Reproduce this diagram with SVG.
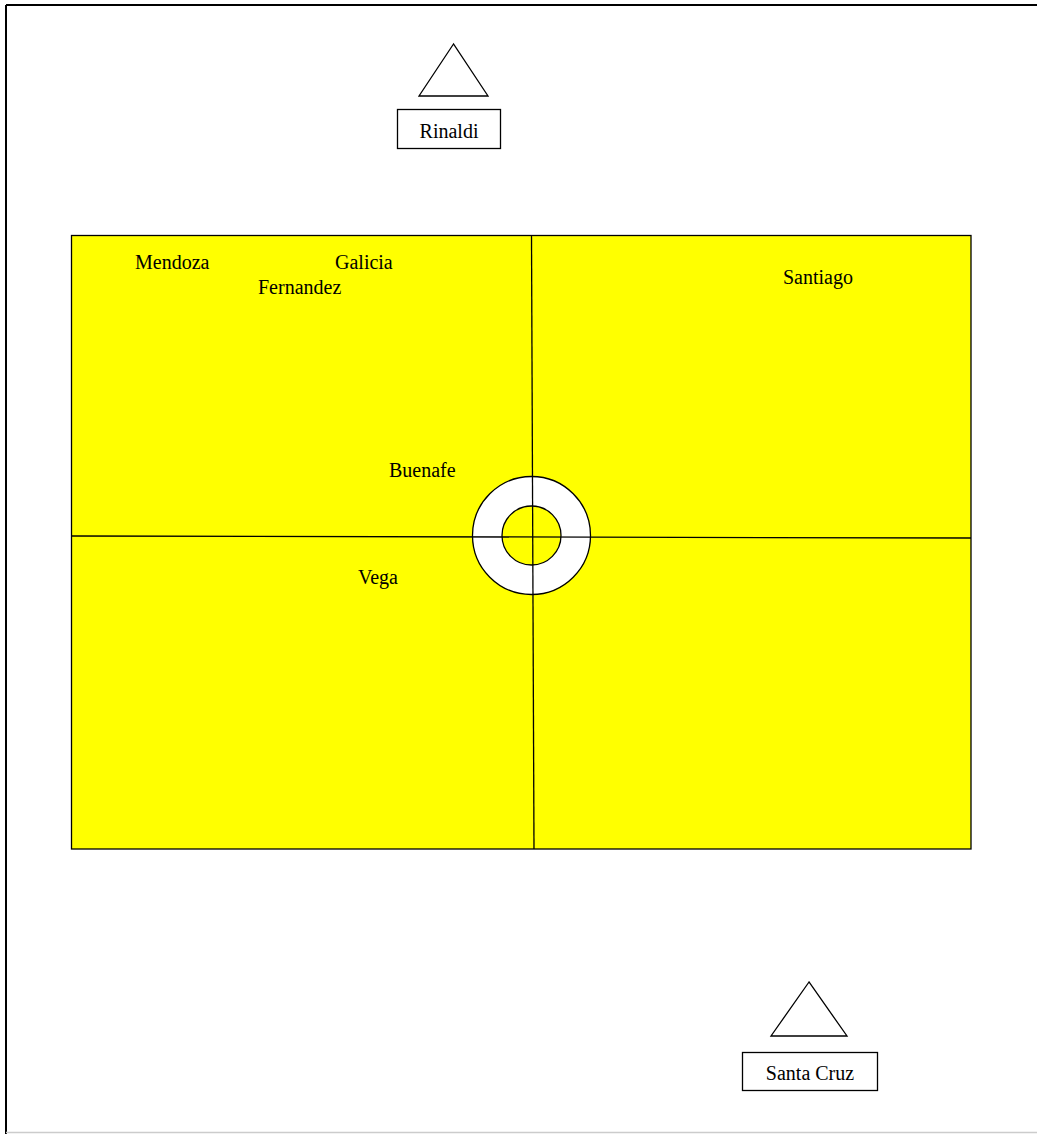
<svg xmlns="http://www.w3.org/2000/svg" width="1037" height="1134" viewBox="0 0 1037 1134">
<style>
.t{font-family:"Liberation Serif","Times New Roman",serif;font-size:20px;fill:#000}
.ln{stroke:#000;stroke-width:1.3;fill:none}
.box{fill:#fff;stroke:#000;stroke-width:1.3}
</style>
<rect x="0" y="0" width="1037" height="1134" fill="#fff"/>
<g id="frame">
<line x1="6" y1="5" x2="1037" y2="5" stroke="#000" stroke-width="2"/>
<line x1="6" y1="5" x2="6" y2="1134" stroke="#000" stroke-width="2"/>
<line x1="6" y1="1132.5" x2="1037" y2="1132.5" stroke="#ccc" stroke-width="1.5"/>
</g>
<g id="field">
<rect x="71.5" y="235.5" width="899.5" height="613.5" fill="#ffff00" stroke="#000" stroke-width="1.3"/>
</g>
<g id="ring">
<circle cx="531.5" cy="535.5" r="59" fill="#fff" stroke="#000" stroke-width="1.3"/>
<circle cx="531.5" cy="535.5" r="29.5" fill="#ffff00" stroke="#000" stroke-width="1.3"/>
</g>
<g id="connectors">
<line class="ln" x1="531.5" y1="235.5" x2="534" y2="849"/>
<line class="ln" x1="71.5" y1="536" x2="971" y2="538"/>
</g>
<g id="labels">
<text class="t" x="135" y="269">Mendoza</text>
<text class="t" x="335" y="269">Galicia</text>
<text class="t" x="258" y="294">Fernandez</text>
<text class="t" x="783" y="284">Santiago</text>
<text class="t" x="389" y="477">Buenafe</text>
<text class="t" x="358" y="584">Vega</text>
</g>
<g id="rinaldi">
<polygon class="box" points="453.5,44 419,96 488,96"/>
<rect class="box" x="397.5" y="109.5" width="103" height="39"/>
<text class="t" x="449" y="138" text-anchor="middle">Rinaldi</text>
</g>
<g id="santa-cruz">
<polygon class="box" points="809,982 771,1036 847,1036"/>
<rect class="box" x="742.5" y="1052.5" width="135" height="38"/>
<text class="t" x="810" y="1080" text-anchor="middle">Santa Cruz</text>
</g>
</svg>
